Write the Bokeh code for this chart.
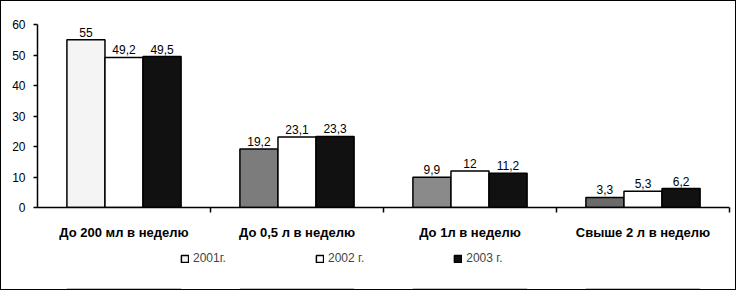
import numpy as np
from bokeh.plotting import figure
from bokeh.layouts import column
from bokeh.models import ColumnDataSource, FixedTicker, Legend, LegendItem, Range1d
from bokeh.transform import dodge
from bokeh.core.properties import value
from bokeh.embed import file_html
from bokeh.resources import INLINE

categories = ["До 200 мл в неделю", "До 0,5 л в неделю", "До 1л в неделю", "Свыше 2 л в неделю"]
years = ["2001г.", "2002 г.", "2003 г."]
v2001 = [55, 19.2, 9.9, 3.3]
v2002 = [49.2, 23.1, 12, 5.3]
v2003 = [49.5, 23.3, 11.2, 6.2]
y_ticks = [0, 10, 20, 30, 40, 50, 60]

# per-bar fills as seen in the scan
c2001 = ["#f4f4f4", "#7c7c7c", "#8a8a8a", "#6a6a6a"]
c2002 = ["#ffffff"] * 4
c2003 = ["#111111"] * 4


def fmt(v):
    return ("%g" % v).replace(".", ",")


FONT = value("Liberation Sans")
x = np.arange(len(categories)) + 0.5
src = ColumnDataSource(dict(
    x=x,
    v1=v2001, v2=v2002, v3=v2003,
    l1=[fmt(v) for v in v2001], l2=[fmt(v) for v in v2002], l3=[fmt(v) for v in v2003],
    c1=c2001, c2=c2002, c3=c2003,
))

p = figure(width=734, height=250, x_range=Range1d(0, len(categories)), y_range=Range1d(0, 60),
           output_backend="svg", toolbar_location=None,
           min_border_left=36, min_border_right=6, min_border_top=23, min_border_bottom=44)
p.outline_line_color = None
p.xgrid.visible = False
p.ygrid.visible = False

w = 0.22
offs = [-w, 0.0, w]
keys = [("v1", "l1", "c1"), ("v2", "l2", "c2"), ("v3", "l3", "c3")]
for off, (vk, lk, ck) in zip(offs, keys):
    p.vbar(x=dodge("x", off), top=vk, width=w, source=src, fill_color=ck,
           line_color="black", line_width=1.5)
    p.text(x=dodge("x", off), y=vk, text=lk, source=src, text_align="center",
           text_baseline="bottom", y_offset=-3, text_font=FONT, text_font_size="12px",
           text_color="black")

# axes
xa = p.xaxis[0]
xa.ticker = FixedTicker(ticks=list(x), minor_ticks=list(range(1, len(categories) + 1)))
xa.major_label_overrides = {float(xi): c for xi, c in zip(x, categories)}
xa.major_tick_line_color = None
xa.major_tick_out = 0
xa.major_tick_in = 0
xa.minor_tick_line_color = "black"
xa.minor_tick_out = 5
xa.minor_tick_in = 0
xa.minor_tick_line_width = 1.5
xa.axis_line_width = 1.5
xa.major_label_standoff = 12
xa.major_label_text_font = "Liberation Sans"
xa.major_label_text_font_size = "13px"
xa.major_label_text_font_style = "bold"
xa.major_label_text_color = "black"

ya = p.yaxis[0]
ya.ticker = FixedTicker(ticks=y_ticks)
ya.minor_tick_line_color = None
ya.major_tick_out = 4
ya.major_tick_in = 0
ya.axis_line_width = 1.5
ya.major_tick_line_width = 1.5
ya.major_label_standoff = 8
ya.major_label_text_font = "Liberation Sans"
ya.major_label_text_font_size = "12px"
ya.major_label_text_color = "black"

# legend strip below the chart (same series, drawn outside its range so only the legend shows)
lp = figure(width=734, height=38, x_range=Range1d(0, len(categories)), y_range=Range1d(80, 81),
            output_backend="svg", toolbar_location=None,
            x_axis_location=None, y_axis_location=None,
            min_border_left=0, min_border_right=0, min_border_top=0, min_border_bottom=0)
lp.outline_line_color = None
lp.xgrid.visible = False
lp.ygrid.visible = False
lrs = []
for off, (vk, lk, ck) in zip(offs, keys):
    lrs.append(lp.vbar(x=dodge("x", off), top=vk, width=w, source=src, fill_color=ck,
                       line_color="black", line_width=1.5))

legend = Legend(items=[LegendItem(label=yname, renderers=[r]) for yname, r in zip(years, lrs)],
                orientation="horizontal", location=(143, 24), padding=0, margin=0,
                spacing=89, glyph_width=9, glyph_height=9, label_height=12, label_standoff=4,
                label_text_font="Liberation Sans", label_text_font_size="12px",
                border_line_color=None, background_fill_alpha=0)
lp.add_layout(legend, "center")

layout = column(p, lp, spacing=0)
layout.styles = {"border": "1px solid black"}

open("out.html", "w").write(file_html(layout, INLINE))
